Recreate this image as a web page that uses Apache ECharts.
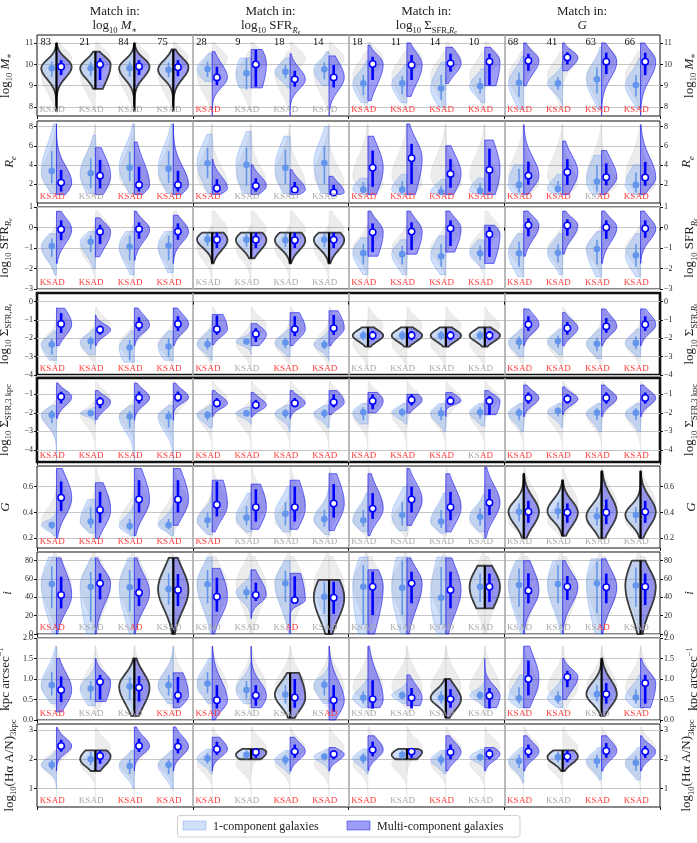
<!DOCTYPE html>
<html><head><meta charset="utf-8">
<script src="https://cdn.jsdelivr.net/npm/echarts@6/dist/echarts.min.js"></script>
<style>html,body{margin:0;padding:0;background:#fff}#main{width:697px;height:843px}</style>
</head><body><div id="main"></div>
<script>
// ================= DATA =================
const pairCounts = [83,21,84,75, 28,9,18,14, 18,11,14,10, 68,41,63,66];
const groupHeaders = ['{t|log}{s|10}{t| }{i|M}{s|∗}', '{t|log}{s|10}{t| SFR}{si|R}{ss|e}', '{t|log}{s|10}{t| Σ}{s|SFR,}{si|R}{ss|e}', '{i|G}'];
const yNames = ['{t|log}{s|10}{t| }{i|M}{s|∗}', '{i|R}{si|e}', '{t|log}{s|10}{t| SFR}{si|R}{ss|e}', '{t|log}{s|10}{t| Σ}{s|SFR,}{si|R}{ss|e}', '{t|log}{s|10}{t| Σ}{s|SFR,3 kpc}', '{i|G}', '{i|i}', '{t|kpc arcsec}{sup|−1}', '{t|log}{s|10}{t|(Hα A/N)}{s|3kpc}'];
const yMin = [7.58, 0, -3, -4, -4.65, 0.125, 0, 0, 0.375];
const yMax = [11.38, 8.6, 1, 0.47, -0.12, 0.76, 89.5, 2.0, 3.2];
const yTicks = [[8,9,10,11],[2,4,6,8],[-3,-2,-1,0,1],[-4,-3,-2,-1,0],[-4,-3,-2,-1],[0.2,0.4,0.6],[0,20,40,60,80],[0,0.5,1,1.5,2],[1,2,3]];

const oneMed = [
 [9.82,9.82,9.82,9.75, 9.78,9.58,9.66,9.77, 9.11,9.11,8.88,8.99, 9.14,9.11,9.30,9.03],
 [3.36,3.12,3.71,3.60, 4.17,4.00,3.70,4.20, 1.40,1.40,1.15,1.27, 1.90,1.48,2.24,1.90],
 [-0.91,-0.70,-0.94,-0.89, -0.58,-0.60,-0.62,-0.60, -1.25,-1.30,-1.40,-1.26, -1.26,-1.23,-1.05,-1.35],
 [-2.34,-2.16,-2.50,-2.45, -2.32,-2.17,-2.23,-2.35, -1.85,-1.85,-1.85,-1.85, -2.20,-2.15,-2.30,-2.25],
 [-2.11,-2.02,-2.20,-2.20, -2.11,-2.02,-2.02,-2.02, -1.97,-1.97,-2.02,-1.97, -2.00,-1.90,-2.00,-2.00],
 [0.303,0.33,0.295,0.303, 0.34,0.36,0.39,0.35, 0.34,0.38,0.33,0.367, 0.406,0.41,0.37,0.38],
 [54.5,51.6,51.0,49.0, 54.2,45.5,55.3,40.7, 51.6,50.5,39.6,51.6, 53.4,54.5,55.3,53.0],
 [0.85,0.77,0.82,0.85, 0.89,0.73,0.62,0.86, 0.54,0.60,0.54,0.60, 0.53,0.53,0.63,0.55],
 [1.81,2.00,1.77,1.81, 2.03,2.15,1.98,2.09, 2.03,2.15,1.98,2.07, 1.94,2.07,1.94,1.88]
];
const oneLo = [
 [9.42,9.44,9.42,9.40, 9.40,8.83,9.35,9.30, 8.56,8.60,8.33,8.64, 8.48,8.80,8.64,8.50],
 [2.07,1.55,2.30,2.10, 2.60,1.80,2.00,2.00, 1.00,1.00,0.90,1.05, 1.10,1.10,1.20,1.10],
 [-1.43,-1.20,-1.60,-1.60, -0.90,-0.95,-0.95,-0.95, -1.80,-1.80,-1.90,-1.59, -1.90,-1.70,-1.80,-1.90],
 [-2.88,-2.60,-3.20,-3.00, -2.62,-2.35,-2.55,-2.60, -2.10,-2.10,-2.10,-2.10, -2.60,-2.50,-2.70,-2.60],
 [-2.56,-2.15,-2.80,-2.80, -2.40,-2.20,-2.30,-2.30, -2.40,-2.20,-2.40,-2.30, -2.40,-2.20,-2.40,-2.40],
 [0.27,0.28,0.26,0.27, 0.28,0.30,0.30,0.29, 0.29,0.30,0.28,0.30, 0.33,0.35,0.30,0.32],
 [28,13.4,24.4,32, 33.5,38,35,22, 9.8,20.7,9.8,35, 29.8,33.5,22.6,29.8],
 [0.60,0.50,0.50,0.60, 0.65,0.52,0.40,0.60, 0.40,0.50,0.40,0.50, 0.40,0.40,0.45,0.40],
 [1.64,1.80,1.50,1.50, 1.85,2.00,1.80,1.95, 1.85,2.00,1.80,1.95, 1.70,1.90,1.70,1.60]
];
const oneHi = [
 [10.13,10.13,10.13,10.10, 10.13,10.29,9.97,10.10, 9.50,9.45,9.50,9.35, 9.61,9.40,9.85,9.50],
 [5.45,4.69,5.40,5.45, 5.80,5.80,5.60,6.00, 2.20,2.30,1.80,2.10, 3.60,2.30,4.00,3.20],
 [-0.53,-0.40,-0.40,-0.40, -0.30,-0.30,-0.30,-0.30, -0.80,-0.90,-0.80,-0.86, -0.70,-0.80,-0.60,-0.80],
 [-2.03,-1.90,-2.10,-2.00, -1.99,-2.00,-1.95,-2.10, -1.60,-1.60,-1.60,-1.60, -1.90,-1.85,-1.95,-1.90],
 [-1.85,-1.90,-1.90,-1.90, -1.90,-1.85,-1.80,-1.80, -1.70,-1.75,-1.70,-1.70, -1.75,-1.70,-1.75,-1.75],
 [0.33,0.44,0.35,0.35, 0.40,0.45,0.48,0.42, 0.42,0.48,0.42,0.43, 0.47,0.48,0.44,0.44],
 [74.1,67.6,69.8,66, 69.8,52,69,57, 75,80,73,66, 71.6,75,78.9,72.7],
 [1.17,0.95,1.05,1.10, 1.17,0.95,0.85,1.00, 0.70,0.70,0.70,0.70, 0.80,0.70,0.85,0.75],
 [1.97,2.25,2.00,2.00, 2.20,2.30,2.15,2.20, 2.20,2.30,2.15,2.20, 2.15,2.25,2.15,2.10]
];
const mulMed = [
 [9.89,10.00,9.90,9.87, 9.39,10.00,9.30,9.39, 10.02,9.97,10.05,10.13, 10.17,10.33,10.13,10.13],
 [2.14,2.87,1.90,1.90, 1.55,1.80,1.40,1.10, 3.70,4.70,3.05,3.47, 2.87,3.22,2.70,2.67],
 [-0.10,-0.21,-0.08,-0.20, -0.60,-0.60,-0.62,-0.60, -0.23,-0.20,-0.05,-0.33, 0.11,0.10,0.00,-0.05],
 [-1.22,-1.53,-1.28,-1.22, -1.50,-1.76,-1.50,-1.45, -1.85,-1.85,-1.85,-1.85, -1.25,-1.45,-1.35,-1.25],
 [-1.13,-1.40,-1.18,-1.16, -1.48,-1.58,-1.48,-1.43, -1.36,-1.30,-1.36,-1.36, -1.20,-1.25,-1.20,-1.20],
 [0.515,0.42,0.50,0.50, 0.46,0.44,0.44,0.47, 0.43,0.50,0.44,0.476, 0.406,0.40,0.40,0.405],
 [42.5,55.3,45,48, 40.7,42.5,37,39.6, 51.6,55.3,48,51.6, 47.3,51.6,51,51.6],
 [0.73,0.93,0.79,0.60, 0.48,0.60,0.55,0.48, 0.51,0.54,0.51,0.59, 1.00,1.05,0.63,0.90],
 [2.45,2.11,2.45,2.43, 2.34,2.24,2.26,2.17, 2.32,2.26,2.24,2.18, 2.26,2.09,2.28,2.26]
];
const mulLo = [
 [9.50,9.27,9.50,9.45, 9.03,8.95,8.95,8.92, 9.27,9.27,9.66,9.03, 9.70,10.00,9.55,9.50],
 [1.20,1.54,1.20,1.20, 1.10,1.20,1.00,0.90, 1.70,2.00,1.60,1.20, 1.90,1.90,1.85,1.80],
 [-0.62,-0.80,-0.55,-0.60, -1.00,-1.00,-1.00,-1.00, -1.20,-1.10,-0.90,-1.43, -0.43,-0.40,-0.55,-0.50],
 [-1.71,-1.80,-1.60,-1.60, -1.81,-2.20,-1.88,-1.81, -2.10,-2.10,-2.10,-2.10, -1.60,-1.80,-1.70,-1.60],
 [-1.49,-1.75,-1.50,-1.40, -1.70,-1.80,-1.70,-1.70, -1.80,-1.60,-1.50,-2.10, -1.50,-1.50,-1.50,-1.50],
 [0.41,0.32,0.40,0.40, 0.37,0.33,0.33,0.36, 0.35,0.40,0.34,0.38, 0.32,0.32,0.31,0.32],
 [28,37.8,30.5,30.5, 24.4,36,33,22, 20.7,33.5,28,35, 33.5,37,33.5,31.6],
 [0.44,0.50,0.45,0.42, 0.28,0.35,0.30,0.20, 0.28,0.28,0.30,0.28, 0.60,0.80,0.40,0.40],
 [2.26,1.85,2.25,2.20, 2.15,2.05,2.05,2.00, 2.10,2.05,2.00,2.00, 2.05,1.90,2.05,2.05]
];
const mulHi = [
 [10.20,10.29,10.20,10.20, 9.89,10.68,9.70,9.97, 10.36,10.44,10.50,10.50, 10.50,10.57,10.55,10.55],
 [3.47,4.51,3.80,3.38, 2.50,2.60,2.20,1.90, 5.50,6.20,4.60,5.70, 4.33,4.60,4.15,4.30],
 [0.35,0.13,0.25,0.20, -0.25,-0.25,-0.25,-0.25, 0.20,0.25,0.35,0.03, 0.45,0.40,0.35,0.35],
 [-0.63,-1.30,-0.85,-0.80, -0.76,-1.45,-0.80,-0.73, -1.60,-1.60,-1.60,-1.60, -0.80,-1.10,-0.90,-0.80],
 [-0.86,-1.15,-0.85,-0.85, -1.20,-1.30,-1.20,-1.00, -1.00,-1.00,-1.10,-1.10, -0.90,-1.00,-0.90,-0.90],
 [0.64,0.56,0.65,0.65, 0.64,0.58,0.60,0.62, 0.55,0.60,0.56,0.58, 0.49,0.47,0.50,0.49],
 [62.5,66.2,60.7,65.5, 61.4,56,63,57, 68,68,68,66, 66.2,63.3,66,66],
 [1.06,1.10,1.07,1.05, 0.85,0.85,1.00,0.85, 0.97,0.78,0.75,0.78, 1.45,1.20,0.90,1.10],
 [2.66,2.30,2.70,2.70, 2.60,2.35,2.50,2.30, 2.60,2.35,2.50,2.35, 2.50,2.30,2.55,2.45]
];
const oneMin = [
 [7.8,8.85,7.8,7.8, 9.2,8.9,8.9,9.0, 8.2,8.2,8.0,8.2, 7.9,8.0,7.9,7.9],
 [1.0,1.0,1.0,1.0, 1.0,1.0,1.0,1.0, 0.9,0.9,0.9,0.9, 0.9,0.9,0.9,0.9],
 [-2.3,-2.0,-2.3,-2.2, -1.75,-1.5,-1.75,-1.75, -2.3,-2.3,-2.3,-2.0, -2.4,-2.3,-2.4,-2.4],
 [-3.2,-2.9,-3.3,-3.2, -3.2,-2.9,-3.0,-3.2, -2.45,-2.45,-2.45,-2.45, -3.0,-2.9,-3.1,-3.0],
 [-4.6,-2.6,-4.6,-4.6, -2.8,-2.6,-3.0,-2.8, -2.6,-2.6,-3.0,-2.7, -3.0,-2.8,-3.0,-3.0],
 [0.22,0.24,0.22,0.22, 0.23,0.25,0.25,0.23, 0.25,0.26,0.24,0.25, 0.2,0.22,0.2,0.2],
 [0,0,0,0, 0,17,0,0, 0,0,0,28, 0,0,0,0],
 [0.4,0.35,0.1,0.4, 0.4,0.4,0.05,0.4, 0.3,0.4,0.05,0.35, 0.3,0.3,0.1,0.3],
 [1.0,1.6,1.0,1.0, 1.5,2.0,1.5,1.6, 1.5,2.0,1.5,1.6, 1.2,1.6,1.3,1.3]
];
const oneMax = [
 [11.0,10.6,11.0,10.7, 10.5,10.3,10.3,10.6, 10.2,10.0,10.1,9.8, 10.4,10.1,10.8,10.3],
 [8.3,7.1,8.3,8.3, 7.2,7.5,7.0,8.0, 2.6,3.0,2.5,2.6, 4.0,3.0,5.0,4.0],
 [-0.3,-0.2,-0.2,-0.2, -0.25,-0.25,-0.25,-0.25, -0.5,-0.6,-0.4,-0.6, -0.3,-0.3,-0.2,-0.3],
 [-1.6,-1.5,-1.6,-1.6, -1.5,-1.6,-1.5,-1.6, -1.4,-1.4,-1.4,-1.4, -1.5,-1.5,-1.5,-1.5],
 [-1.6,-1.7,-1.6,-1.6, -1.6,-1.7,-1.6,-1.6, -1.5,-1.5,-1.5,-1.5, -1.5,-1.5,-1.5,-1.5],
 [0.45,0.5,0.46,0.46, 0.56,0.55,0.6,0.58, 0.55,0.6,0.55,0.54, 0.7,0.65,0.72,0.72],
 [84,83,83,83, 84,70,80,59, 84,84,84,74.5, 80,80,82,80],
 [1.8,1.5,1.5,1.8, 1.5,1.4,1.15,1.4, 1.0,0.9,1.0,1.1, 1.1,1.0,1.5,1.1],
 [2.3,2.3,2.3,2.3, 2.35,2.35,2.3,2.35, 2.35,2.35,2.3,2.35, 2.4,2.3,2.4,2.4]
];
const mulMin = [
 [7.8,8.85,7.8,7.8, 7.6,8.9,7.6,7.6, 8.3,8.5,9.1,9.0, 9.0,9.7,7.6,7.6],
 [0.9,0.9,0.9,0.9, 0.9,0.9,0.9,0.9, 0.9,0.9,0.9,0.9, 0.9,0.9,0.9,0.9],
 [-1.75,-1.43,-1.6,-1.75, -1.75,-1.5,-1.75,-1.75, -1.4,-1.3,-1.2,-1.75, -1.4,-1.3,-1.75,-1.75],
 [-2.4,-2.4,-2.4,-2.4, -2.35,-2.4,-2.4,-2.4, -2.45,-2.45,-2.45,-2.45, -2.4,-2.4,-2.4,-2.4],
 [-2.3,-2.35,-2.4,-2.4, -2.2,-2.2,-2.3,-2.1, -2.0,-2.0,-2.2,-2.1, -2.2,-2.1,-2.2,-2.2],
 [0.2,0.2,0.22,0.3, 0.25,0.27,0.27,0.26, 0.22,0.3,0.25,0.2, 0.2,0.22,0.2,0.2],
 [0,0,0,0, 0,17,0,0, 0,0,0,28, 0,0,0,0],
 [0.2,0.45,0.1,0.3, 0.0,0.3,0.05,0.0, 0.3,0.35,0.05,0.3, 0.3,0.5,0.1,0.3],
 [1.6,1.6,1.6,1.6, 1.6,2.0,1.6,1.6, 1.6,2.0,1.6,1.6, 1.6,1.6,1.6,1.6]
];
const mulMax = [
 [11.0,10.6,11.0,10.7, 10.6,10.7,10.5,10.4, 10.9,11.0,10.8,10.8, 11.0,11.0,11.0,11.0],
 [8.3,5.8,6.4,8.3, 4.6,4.0,3.5,2.8, 7.0,8.3,6.0,6.6, 8.2,6.5,5.5,8.2],
 [0.79,0.47,0.8,0.6, -0.25,-0.25,-0.25,-0.25, 0.8,0.8,0.8,0.11, 0.8,0.8,0.8,0.8],
 [-0.36,-0.72,-0.35,-0.35, -0.7,-1.2,-0.6,-0.5, -1.4,-1.4,-1.4,-1.4, -0.4,-0.6,-0.4,-0.4],
 [-0.4,-0.8,-0.4,-0.4, -0.8,-0.9,-0.8,-0.8, -0.9,-1.0,-0.9,-0.8, -0.5,-0.6,-0.5,-0.5],
 [0.74,0.63,0.74,0.74, 0.65,0.62,0.65,0.7, 0.7,0.74,0.7,0.75, 0.7,0.65,0.72,0.72],
 [83,83,83,83, 71.6,70,66.2,59, 70,83,83,74.5, 80,80,82,80],
 [1.5,1.5,1.5,1.15, 1.8,1.8,1.15,1.8, 1.8,1.1,1.0,1.5, 1.8,1.5,1.5,1.5],
 [3.08,2.3,3.1,3.1, 2.75,2.35,2.75,2.4, 2.8,2.35,2.8,2.4, 2.8,2.3,2.8,2.8]
];
// full (unmatched) samples, per row: [min, mode, max, spreadBelow, spreadAbove]
const greyOne = [
 [7.8,9.5,10.6,0.8,0.6],[0.7,2.8,8.3,1.2,2.2],[-2.6,-1.0,0.1,0.6,0.5],[-3.7,-2.3,-1.0,0.55,0.5],
 [-4.6,-2.1,-1.3,0.6,0.35],[0.2,0.33,0.62,0.06,0.1],[0,55,88,25,18],[0.3,0.8,1.8,0.25,0.35],[0.6,1.85,2.3,0.3,0.25]
];
const greyMul = [
 [8.8,10.3,11.05,0.5,0.4],[0.8,2.0,8.3,0.8,1.8],[-1.8,-0.1,0.8,0.5,0.5],[-2.6,-1.3,-0.3,0.5,0.45],
 [-2.8,-1.2,-0.3,0.5,0.4],[0.22,0.47,0.76,0.1,0.12],[0,52,85,25,20],[0.1,0.8,1.8,0.3,0.4],[1.5,2.4,3.1,0.3,0.3]
];
const matchedPairs = ['1111000000000000','0000000000000000','0000111100000000','0000000011110000','0000000000000000','0000000000001111','0001000100010001','0010001000100010','0100010001000100'];
const ksSignif = ['0000100011111111','1011100011111101','1111000011111111','1111101100001111','1111111111101111','1111100000000000','1000000000000000','1001100000001101','1011101110101011'];
const adSignif = ['0000100011111111','1011100011111111','1111000011111111','1111101100001111','1111111111111111','1111100000000000','1010001000000010','1001100100001101','1011101110101011'];

// ================= LAYOUT / STYLE =================
const FONT = "'Liberation Serif','DejaVu Serif',serif";
const rowTop = [35,121,207,293,378,466,552,638,724];
const rowH = [81,82,82,82,84,82,82,82,83];
const LEFT = 37, RIGHT = 37;
const richBase = {
  t: {fontSize: 13, lineHeight: 18, fontFamily: FONT, color: '#222', fill: '#222'},
  i: {fontSize: 13, lineHeight: 18, fontStyle: 'italic', fontFamily: FONT, color: '#222', fill: '#222'},
  s: {fontSize: 8.5, lineHeight: 9, verticalAlign: 'bottom', fontFamily: FONT, color: '#222', fill: '#222'},
  si: {fontSize: 8.5, lineHeight: 9, verticalAlign: 'bottom', fontStyle: 'italic', fontFamily: FONT, color: '#222', fill: '#222'},
  ss: {fontSize: 6, lineHeight: 4, verticalAlign: 'bottom', fontStyle: 'italic', fontFamily: FONT, color: '#222', fill: '#222'},
  sup: {fontSize: 8.5, lineHeight: 9, verticalAlign: 'top', fontFamily: FONT, color: '#222', fill: '#222'}
};
const C_GREY = 'rgba(140,140,140,0.17)';
const C_ONE = 'rgba(100,149,237,0.3)', C_ONE_E = 'rgba(100,149,237,0.45)';
const C_MUL = 'rgba(40,40,235,0.45)', C_MUL_E = 'rgba(30,30,240,0.65)';
const C_RED = '#ff3b3b', C_GRY = '#a8a8a8';

function curve(cx, W, sgn, mn, mode, mx, sLo, sHi, Y) {
  const pts = [], N = 40;
  for (let k = 0; k <= N; k++) {
    const y = mn + (mx - mn) * k / N;
    const s = y < mode ? sLo : sHi;
    const z = (y - mode) / s;
    pts.push([cx + sgn * W * Math.exp(-0.5 * z * z), Y(y)]);
  }
  return pts;
}
function closed(cx, pts) {
  return [[cx, pts[0][1]]].concat(pts, [[cx, pts[pts.length - 1][1]]]);
}
const K = 1.3;
function makeRender(r) {
  return function (params, api) {
    const i = api.value(0);
    const cx = api.coord([i + 0.5, 0])[0];
    const unit = api.size([1, 0])[0];
    const W = unit * 0.39, off = unit * 0.12;
    const Y = v => api.coord([0, v])[1];
    const ch = [];
    const gO = greyOne[r], gM = greyMul[r];
    ch.push({type: 'polygon', shape: {points: closed(cx, curve(cx, W, -1, gO[0], gO[1], gO[2], gO[3], gO[4], Y))}, style: {fill: C_GREY, stroke: 'rgba(150,150,150,0.2)', lineWidth: 0.6}});
    ch.push({type: 'polygon', shape: {points: closed(cx, curve(cx, W, 1, gM[0], gM[1], gM[2], gM[3], gM[4], Y))}, style: {fill: C_GREY, stroke: 'rgba(150,150,150,0.2)', lineWidth: 0.6}});
    const om = oneMed[r][i], ol = oneLo[r][i], oh = oneHi[r][i];
    const mm = mulMed[r][i], ml = mulLo[r][i], mh = mulHi[r][i];
    const lc = curve(cx, W, -1, oneMin[r][i], om, oneMax[r][i], Math.max((om - ol) * K, 1e-3), Math.max((oh - om) * K, 1e-3), Y);
    const rc = curve(cx, W, 1, mulMin[r][i], mm, mulMax[r][i], Math.max((mm - ml) * K, 1e-3), Math.max((mh - mm) * K, 1e-3), Y);
    ch.push({type: 'polygon', shape: {points: closed(cx, lc)}, style: {fill: C_ONE, stroke: C_ONE_E, lineWidth: 0.8}});
    ch.push({type: 'polygon', shape: {points: closed(cx, rc)}, style: {fill: C_MUL, stroke: C_MUL_E, lineWidth: 1}});
    if (matchedPairs[r][i] === '1') {
      const outline = lc.concat(rc.slice().reverse());
      ch.push({type: 'polygon', shape: {points: outline}, style: {fill: 'none', stroke: '#3c3c3c', lineWidth: 1.8, lineJoin: 'round'}});
      ch.push({type: 'line', shape: {x1: cx, y1: Y(Math.min(oneMin[r][i], mulMin[r][i])), x2: cx, y2: Y(Math.max(oneMax[r][i], mulMax[r][i]))}, style: {stroke: '#000', lineWidth: 2.2}});
    }
    ch.push({type: 'line', shape: {x1: cx - off, y1: Y(ol), x2: cx - off, y2: Y(oh)}, style: {stroke: '#6495ED', lineWidth: 1.6}});
    ch.push({type: 'circle', shape: {cx: cx - off, cy: Y(om), r: 3.3}, style: {fill: '#6495ED'}});
    ch.push({type: 'line', shape: {x1: cx + off, y1: Y(ml), x2: cx + off, y2: Y(mh)}, style: {stroke: '#0000ff', lineWidth: 2.6}});
    ch.push({type: 'circle', shape: {cx: cx + off, cy: Y(mm), r: 3.2}, style: {fill: '#fff', stroke: '#0000ff', lineWidth: 1.5}});
    const ksC = ksSignif[r][i] === '1' ? C_RED : C_GRY;
    const adC = adSignif[r][i] === '1' ? C_RED : C_GRY;
    const ty = Y(yMin[r]) - 6.5;
    ch.push({type: 'text', x: cx - 5.2, y: ty, style: {text: 'KS', align: 'right', verticalAlign: 'middle', fontSize: 9, fontFamily: FONT, fill: ksC}});
    ch.push({type: 'text', x: cx - 4.8, y: ty, style: {text: 'AD', align: 'left', verticalAlign: 'middle', fontSize: 9, fontFamily: FONT, fill: adC}});
    if (r === 0) {
      ch.push({type: 'text', x: cx - 16, y: Y(yMax[r]) + 7, style: {text: String(pairCounts[i]), align: 'left', verticalAlign: 'middle', fontSize: 10.5, fontFamily: FONT, fill: '#111'}});
    }
    return {type: 'group', children: ch};
  };
}
function fmt(r) {
  return v => {
    const a = Math.abs(v);
    const s = (r === 5 || r === 7) ? a.toFixed(1) : String(Math.round(a));
    return (v < 0 ? '\u2212' : '') + s;
  };
}

const grids = [], xAxes = [], yAxes = [], series = [];
for (let r = 0; r < 9; r++) {
  const thick = (r === 3 || r === 4);
  grids.push({left: LEFT, right: RIGHT, top: rowTop[r], height: rowH[r], show: true, borderColor: '#111', borderWidth: thick ? 2.6 : 1, backgroundColor: 'rgba(0,0,0,0)', outerBoundsMode: 'none', containLabel: false});
  xAxes.push({gridIndex: r, type: 'value', min: 0, max: 16, interval: 4, axisLine: {show: false}, axisLabel: {show: false},
    axisTick: {show: true, length: 3, lineStyle: {color: '#111'}},
    splitLine: {show: true, showMinLine: false, showMaxLine: false, lineStyle: {color: '#a9a9a9', width: 1.6}}});
  const common = {gridIndex: r, type: 'value', min: yMin[r], max: yMax[r], axisLine: {show: false},
    axisTick: {show: true, customValues: yTicks[r], length: 3, lineStyle: {color: '#111'}},
    axisLabel: {customValues: yTicks[r], formatter: fmt(r), fontSize: 8, fontFamily: FONT, color: '#222', margin: 4},
    name: yNames[r], nameLocation: 'middle', nameRotate: 90,
    nameTextStyle: {fontFamily: FONT, fontSize: 13, color: '#222', rich: richBase}};
  yAxes.push(Object.assign({}, common, {position: 'left', nameGap: 17, splitLine: {show: true, lineStyle: {color: '#c6c6c6', width: 1}}}));
  yAxes.push(Object.assign({}, common, {position: 'right', nameGap: 18, splitLine: {show: false}}));
  series.push({type: 'custom', xAxisIndex: r, yAxisIndex: 2 * r, data: pairCounts.map((_, i) => [i]), renderItem: makeRender(r), clip: false, silent: true});
}

const graphics = [];
const plotW = 697 - LEFT - RIGHT;
for (let g = 0; g < 4; g++) {
  const x = LEFT + plotW * (g * 4 + 2) / 16;
  graphics.push({type: 'text', x: x, y: 11.5, style: {text: 'Match in:', align: 'center', verticalAlign: 'middle', fontSize: 13, fontFamily: FONT, fill: '#222'}});
  graphics.push({type: 'text', x: x, y: 26, style: {text: groupHeaders[g], align: 'center', verticalAlign: 'middle', fontSize: 13, fontFamily: FONT, fill: '#222', rich: richBase}});
}
graphics.push({type: 'rect', shape: {x: 177.5, y: 815.5, width: 342.5, height: 21.5, r: 2.5}, style: {fill: '#fff', stroke: '#d0d0d0', lineWidth: 1}});
graphics.push({type: 'rect', shape: {x: 183, y: 821, width: 23, height: 9}, style: {fill: C_ONE, stroke: C_ONE_E, lineWidth: 0.8}});
graphics.push({type: 'text', x: 213, y: 826.5, style: {text: '1-component galaxies', align: 'left', verticalAlign: 'middle', fontSize: 12, fontFamily: FONT, fill: '#222'}});
graphics.push({type: 'rect', shape: {x: 347, y: 821, width: 23, height: 9}, style: {fill: C_MUL, stroke: C_MUL_E, lineWidth: 0.8}});
graphics.push({type: 'text', x: 377, y: 826.5, style: {text: 'Multi-component galaxies', align: 'left', verticalAlign: 'middle', fontSize: 12, fontFamily: FONT, fill: '#222'}});

const chart = echarts.init(document.getElementById('main'), null, {renderer: 'canvas', width: 697, height: 843});
chart.setOption({animation: false, backgroundColor: '#fff', grid: grids, xAxis: xAxes, yAxis: yAxes, series: series, graphic: graphics});
</script></body></html>
